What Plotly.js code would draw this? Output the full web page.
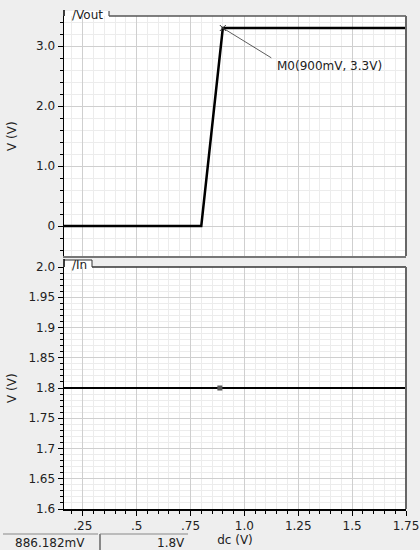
<!DOCTYPE html>
<html>
<head>
<meta charset="utf-8">
<script src="https://cdn.plot.ly/plotly-3.0.1.min.js"></script>
<style>html,body{margin:0;padding:0;background:#eeeeee;}#chart{width:420px;height:550px;}</style>
</head>
<body>
<div id="chart"></div>
<script>
// ---- data ----
var voutX = [0.0, 0.8, 0.9, 1.8];
var voutY = [0.0, 0.0, 3.3, 3.3];
var inX = [0.0, 1.8];
var inY = [1.8, 1.8];
var markerX = [0.9];
var markerY = [3.3];
var cursorX = [0.886182];
var cursorY = [1.8];
var xTickVals = [0.25, 0.5, 0.75, 1.0, 1.25, 1.5, 1.75];
var xTickText = [".25", ".5", ".75", "1.0", "1.25", "1.5", "1.75"];
var topTickVals = [0, 1, 2, 3];
var topTickText = ["0", "1.0", "2.0", "3.0"];
var botTickVals = [1.6, 1.65, 1.7, 1.75, 1.8, 1.85, 1.9, 1.95, 2.0];
var botTickText = ["1.6", "1.65", "1.7", "1.75", "1.8", "1.85", "1.9", "1.95", "2.0"];
var markerLabel = "M0(900mV, 3.3V)";
var readX = "886.182mV";
var readY = "1.8V";

var FONT = "DejaVu Sans";
var majorGrid = "#cfcfcf";
var minorGrid = "#ececec";

var traces = [
  {x: voutX, y: voutY, xaxis: "x2", yaxis: "y2", mode: "lines", line: {color: "#000", width: 2.5}, hoverinfo: "skip"},
  {x: inX, y: inY, xaxis: "x", yaxis: "y", mode: "lines", line: {color: "#000", width: 2}, hoverinfo: "skip"},
  {x: markerX, y: markerY, xaxis: "x2", yaxis: "y2", mode: "markers", marker: {symbol: "x-thin-open", size: 6, color: "#333", line: {color: "#333", width: 1}}},
  {x: cursorX, y: cursorY, xaxis: "x", yaxis: "y", mode: "markers", marker: {symbol: "square", size: 5, color: "#555"}}
];

function px(v){ return (v - 64) / 342; }
function py(v){ return (509 - v) / 493; }

var xCommon = {
  range: [0.163, 1.75],
  tickmode: "array", tickvals: xTickVals,
  showgrid: true, gridcolor: majorGrid, gridwidth: 1,
  zeroline: false,
  minor: {tick0: 0.25, dtick: 0.05, showgrid: true, gridcolor: minorGrid, gridwidth: 1, ticks: "outside", ticklen: 3, tickcolor: "#000"}
};

var layout = {
  width: 420, height: 550,
  margin: {l: 64, r: 14, t: 16, b: 41},
  paper_bgcolor: "#eeeeee",
  plot_bgcolor: "#ffffff",
  showlegend: false,
  font: {family: FONT, size: 12, color: "#222"},
  xaxis: Object.assign({}, xCommon, {
    anchor: "y", domain: [0, 1],
    ticktext: xTickText,
    ticks: "outside", ticklen: 5, tickcolor: "#000",
    showline: true, linecolor: "#000", linewidth: 1.5,
    tickfont: {family: FONT, size: 12, color: "#222"},
    title: {text: "dc (V)", font: {family: FONT, size: 12, color: "#222"}, standoff: 0}
  }),
  xaxis2: Object.assign({}, xCommon, {
    anchor: "y2", matches: "x",
    showticklabels: false, ticks: "",
    showline: true, linecolor: "#777", linewidth: 1.5,
    minor: {tick0: 0.25, dtick: 0.05, showgrid: true, gridcolor: minorGrid, gridwidth: 1, ticks: ""}
  }),
  yaxis: {
    anchor: "x", domain: [0, py(267)],
    range: [1.6, 2.0],
    tickmode: "array", tickvals: botTickVals, ticktext: botTickText,
    ticks: "outside", ticklen: 5, tickcolor: "#000",
    showline: true, linecolor: "#000", linewidth: 1.5,
    showgrid: true, gridcolor: majorGrid, zeroline: false,
    tickfont: {family: FONT, size: 12, color: "#222"},
    minor: {tick0: 1.6, dtick: 0.01, showgrid: true, gridcolor: minorGrid, ticks: "outside", ticklen: 3, tickcolor: "#000"}
  },
  yaxis2: {
    anchor: "x2", domain: [py(256), 1],
    range: [-0.5, 3.5],
    tickmode: "array", tickvals: topTickVals, ticktext: topTickText,
    ticks: "outside", ticklen: 5, tickcolor: "#000",
    showline: true, linecolor: "#000", linewidth: 1.5,
    showgrid: true, gridcolor: majorGrid, zeroline: false,
    tickfont: {family: FONT, size: 12, color: "#222"},
    minor: {tick0: 0, dtick: 0.2, showgrid: true, gridcolor: minorGrid, ticks: "outside", ticklen: 3, tickcolor: "#000"}
  },
  shapes: [
    // top plot tab & frame
    {type: "rect", xref: "paper", yref: "paper", x0: 0, x1: px(109), y0: py(16.5), y1: py(11), fillcolor: "#fff", line: {width: 0}, layer: "below"},
    {type: "line", xref: "paper", yref: "paper", x0: 0, x1: 0, y0: py(16), y1: py(10), line: {color: "#000", width: 1.5}},
    {type: "line", xref: "paper", yref: "paper", x0: px(109), x1: px(109), y0: py(16), y1: py(11), line: {color: "#333", width: 1}},
    {type: "line", xref: "paper", yref: "paper", x0: px(109), x1: 1, y0: 1, y1: 1, line: {color: "#555", width: 1.5}},
    {type: "line", xref: "paper", yref: "paper", x0: 1, x1: 1, y0: py(256), y1: 1, line: {color: "#666", width: 2}},
    // bottom plot tab & frame
    {type: "rect", xref: "paper", yref: "paper", x0: 0, x1: px(92), y0: py(267), y1: py(260), fillcolor: "#fff", line: {width: 0}},
    {type: "line", xref: "paper", yref: "paper", x0: 0, x1: px(92), y0: py(260), y1: py(260), line: {color: "#333", width: 1}},
    {type: "line", xref: "paper", yref: "paper", x0: px(92), x1: px(92), y0: py(267), y1: py(260), line: {color: "#333", width: 1}},
    {type: "line", xref: "paper", yref: "paper", x0: 0, x1: 0, y0: py(267), y1: py(259), line: {color: "#000", width: 1.5}},
    {type: "line", xref: "paper", yref: "paper", x0: px(92), x1: 1, y0: py(267), y1: py(267), line: {color: "#333", width: 1.5}},
    {type: "line", xref: "paper", yref: "paper", x0: 1, x1: 1, y0: 0, y1: py(267), line: {color: "#666", width: 2}},
    // readout boxes
    {type: "line", xref: "paper", yref: "paper", x0: px(3), x1: px(98), y0: py(534), y1: py(534), line: {color: "#888", width: 1}},
    {type: "line", xref: "paper", yref: "paper", x0: px(100), x1: px(100), y0: py(534), y1: py(550), line: {color: "#222", width: 1}},
    {type: "line", xref: "paper", yref: "paper", x0: px(100), x1: px(188), y0: py(534), y1: py(534), line: {color: "#888", width: 1}}
  ],
  annotations: [
    {xref: "paper", yref: "paper", x: px(70), y: py(15), xanchor: "left", yanchor: "middle", text: "/Vout", showarrow: false, font: {family: FONT, size: 12, color: "#222"}},
    {xref: "paper", yref: "paper", x: px(70), y: py(265), xanchor: "left", yanchor: "middle", text: "/In", showarrow: false, font: {family: FONT, size: 12, color: "#222"}},
    {xref: "paper", yref: "y2 domain", x: px(12), y: 0.5, xanchor: "center", yanchor: "middle", textangle: -90, text: "V (V)", showarrow: false, font: {family: FONT, size: 12, color: "#222"}},
    {xref: "paper", yref: "y domain", x: px(12), y: 0.5, xanchor: "center", yanchor: "middle", textangle: -90, text: "V (V)", showarrow: false, font: {family: FONT, size: 12, color: "#222"}},
    {xref: "x2", yref: "y2", x: markerX[0], y: markerY[0], text: " ", showarrow: true, arrowhead: 0, arrowwidth: 0.8, arrowcolor: "#333", ax: 52, ay: 32, standoff: 0},
    {xref: "x2", yref: "y2", x: markerX[0], y: markerY[0], text: markerLabel, showarrow: false, xanchor: "left", yanchor: "middle", xshift: 52, yshift: -38, font: {family: FONT, size: 12, color: "#222"}},
    {xref: "paper", yref: "paper", x: px(13), y: py(543), xanchor: "left", yanchor: "middle", text: readX, showarrow: false, font: {family: FONT, size: 12, color: "#222"}},
    {xref: "paper", yref: "paper", x: px(187), y: py(543), xanchor: "right", yanchor: "middle", text: readY, showarrow: false, font: {family: FONT, size: 12, color: "#222"}}
  ]
};

Plotly.newPlot("chart", traces, layout, {staticPlot: true, displayModeBar: false});
</script>
</body>
</html>
